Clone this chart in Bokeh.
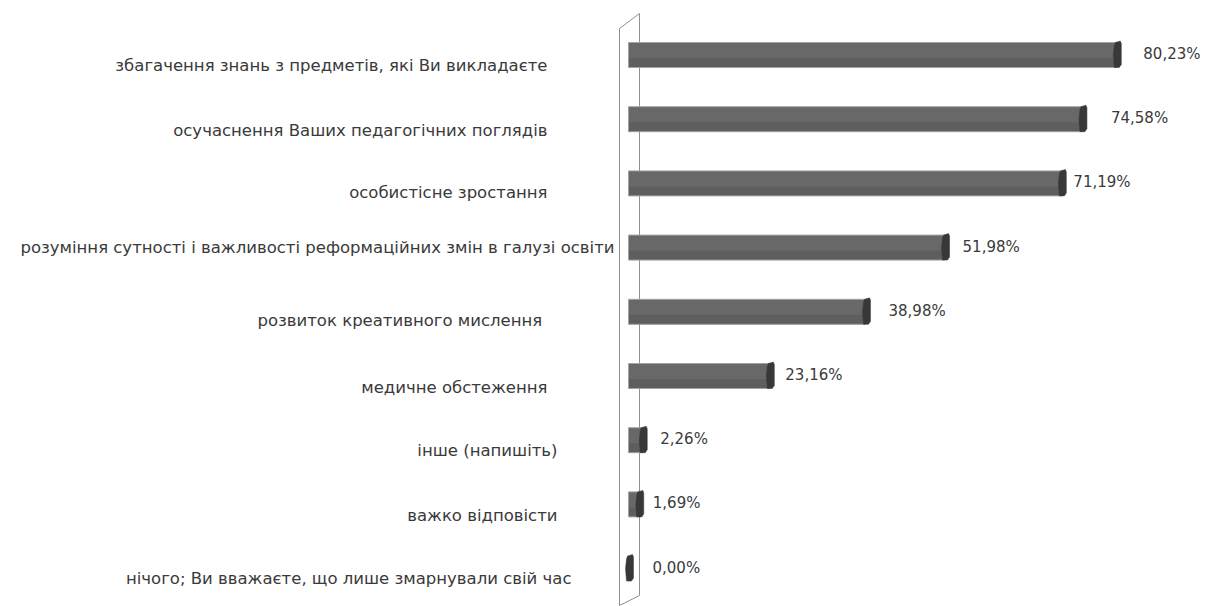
from bokeh.plotting import figure
from bokeh.models import Range1d, ColumnDataSource
from bokeh.embed import file_html
from bokeh.resources import INLINE
from bokeh.core.properties import value

# ---- data (top to bottom) ----
categories = [
    "збагачення знань з предметів, які Ви викладаєте",
    "осучаснення Ваших педагогічних поглядів",
    "особистісне зростання",
    "розуміння сутності і важливості реформаційних змін в галузі освіти",
    "розвиток  креативного мислення",
    "медичне обстеження",
    "інше (напишіть)",
    "важко відповісти",
    "нічого; Ви вважаєте, що лише змарнували свій час",
]
percent = [80.23, 74.58, 71.19, 51.98, 38.98, 23.16, 2.26, 1.69, 0.00]
value_labels = ["80,23%", "74,58%", "71,19%", "51,98%", "38,98%", "23,16%", "2,26%", "1,69%", "0,00%"]

# ---- styles (pixel nudges for labels, as in the reference) ----
cat_label_dx = [-81, -81, -81, -14, -81, -81, -71, -71, -57]
cat_label_dy = [10, 11, 9, 0, 9, 11, 10, 11, 10]
val_label_dx = [27, 29, 12, 18, 23, 16, 18, 14, 24]

W, H = 1207, 606
PX = 6.08          # pixels per percent
X0 = 628           # canvas px of the value-axis origin
ROW = 64.2         # pixels per category row
TOP = 54.5         # canvas px of first row centre
n = len(categories)

def dx(px):
    return px / PX

def dy(px):
    return px / ROW

x_start = -X0 / PX
x_end = (W - X0) / PX
y_end = (n - 1) + TOP / ROW
y_start = (n - 1) - (H - TOP) / ROW

def cy(canvas_y):
    return y_end - canvas_y / ROW

def cx(canvas_x):
    return (canvas_x - X0) / PX

ys = [n - 1 - i for i in range(n)]
half = dy(12.5)

p = figure(width=W, height=H, x_range=Range1d(x_start, x_end), y_range=Range1d(y_start, y_end),
           output_backend="svg", toolbar_location=None, min_border=0,
           background_fill_color="white", border_fill_color="white", outline_line_color=None)
p.axis.visible = False
p.grid.visible = False

# back wall (3D axis wall)
wall_col = "#8f8f8f"
p.line([cx(619), cx(619)], [cy(28), cy(605)], line_color=wall_col, line_width=1)
p.line([cx(619), cx(639)], [cy(28), cy(13)], line_color=wall_col, line_width=1)
p.line([cx(619), cx(639)], [cy(605), cy(595)], line_color=wall_col, line_width=1)
p.line([cx(639), cx(639)], [cy(13), cy(595)], line_color=wall_col, line_width=1)

# bar faces
src = ColumnDataSource(dict(
    y=ys, v=percent,
    top=[y + half for y in ys], bot=[y - half for y in ys],
    mid=[y - dy(3) for y in ys],
))
p.quad(left=0, right="v", top="top", bottom="bot", source=src,
       fill_color="#686868", line_color=None)
p.quad(left=0, right="v", top="mid", bottom="bot", source=src,
       fill_color="#5e5e5e", line_color=None)
p.quad(left=0, right="v", top="top", bottom="bot", source=src,
       fill_color=None, line_color="#a3a3a3", line_width=1)

# bar end caps (dark)
cap_xs, cap_ys = [], []
for v, y in zip(percent, ys):
    t, b = y + half, y - half
    cap_xs.append([v - dx(1), v + dx(4), v + dx(5), v + dx(5), v + dx(3), v - dx(2), v - dx(3), v - dx(2)])
    cap_ys.append([t, t + dy(1.5), t - dy(1), b + dy(3), b, b, y, t - dy(3)])
p.patches(cap_xs, cap_ys, fill_color="#383838", line_color="#383838", line_width=0.5)

font = value("DejaVu Sans")
# category labels
p.text(x=[0] * n, y=ys, text=categories, x_offset=cat_label_dx, y_offset=cat_label_dy,
       text_align="right", text_baseline="middle", text_font=font, text_font_size="16.5px",
       text_color="#3a3a3a")
# value labels
p.text(x=percent, y=ys, text=value_labels, x_offset=val_label_dx, y_offset=-1,
       text_align="left", text_baseline="middle", text_font=font, text_font_size="15px",
       text_color="#3a3a3a")

open("out.html", "w").write(file_html(p, INLINE))
